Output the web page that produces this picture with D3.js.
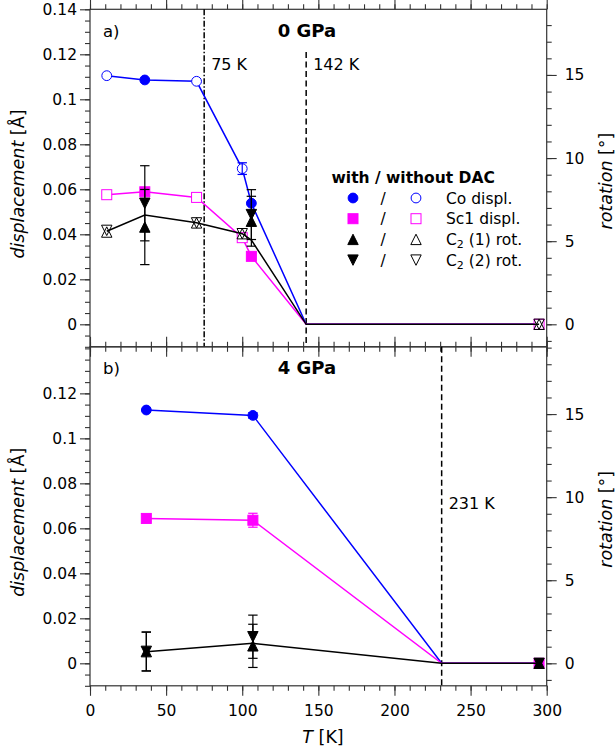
<!DOCTYPE html>
<html><head><meta charset="utf-8">
<script src="https://cdn.jsdelivr.net/npm/d3@7"></script>
<style>
html,body{margin:0;padding:0;background:#fff;}
svg{display:block;font-family:"DejaVu Sans",sans-serif;}
</style></head>
<body><svg id="chart" width="615" height="752"></svg>
<script>
// ---------- DATA ----------
const xTicks = [0, 50, 100, 150, 200, 250, 300];
const dispTicksA = [0, 0.02, 0.04, 0.06, 0.08, 0.1, 0.12, 0.14];
const dispTicksB = [0, 0.02, 0.04, 0.06, 0.08, 0.1, 0.12];
const rotTicks = [0, 5, 10, 15];

// panel a) 0 GPa  (type: f = with DAC, o = without DAC, "" = line only)
const aT        = [11, 36, 70, 100, 106, 142, 295];
const aCo       = [0.1105, 0.1086, 0.1080, 0.0692, 0.0538, 0, 0];
const aCoErr    = [0, 0, 0, 0.0026, 0, 0, 0];
const aCoType   = ["o", "f", "o", "o", "f", "", ""];
const aSc       = [0.0576, 0.0589, 0.0564, 0.0385, 0.0302, 0, 0];
const aScType   = ["o", "f", "o", "o", "f", "", "o"];
const aRotLine  = [5.6, 6.57, 6.11, 5.45, 5.07, 0, 0];
const aRotT     = [11, 36, 70, 100, 106, 295];
const aRotType  = ["o", "f", "o", "o", "f", "o"];
const aC21      = [5.55, 5.85, 6.1, 5.45, 6.2, 0];
const aC21Err   = [0, 2.26, 0, 0, 1.5, 0];
const aC22      = [5.65, 7.28, 6.1, 5.45, 6.6, 0];
const aC22Err   = [0, 2.26, 0, 0, 1.5, 0];

// panel b) 4 GPa
const bT        = [37, 107, 231, 295];
const bCo       = [0.1126, 0.1102, 0, 0];
const bCoErr    = [0, 0.0012, 0, 0];
const bCoType   = ["f", "f", "", ""];
const bSc       = [0.0644, 0.0636, 0, 0];
const bScErr    = [0, 0.0031, 0, 0];
const bScType   = ["f", "f", "", "f"];
const bRotLine  = [0.70, 1.2, 0, 0];
const bRotT     = [37, 107, 295];
const bRotType  = ["f", "f", "f"];
const bC21      = [0.70, 1.05, 0];
const bC21Err   = [1.17, 1.3, 0];
const bC22      = [0.72, 1.6, 0];
const bC22Err   = [1.17, 1.3, 0];

// ---------- DRAW ----------
const svg = d3.select("#chart");
const X0 = 90, X1 = 546.7;
const x = d3.scaleLinear().domain([0, 300]).range([X0, X1]);
const BLUE = "#0000ff", MAG = "#ff00ff", AXC = "#333";
const FS = 15.5;

function trianglePath(up) {
  const s = 5.2;
  return up ? `M0,${-s}L${s},${s}L${-s},${s}Z` : `M0,${s}L${s},${-s}L${-s},${-s}Z`;
}

function panel(opt) {
  const y = d3.scaleLinear().domain(opt.dDom).range([opt.bottom, opt.top]);
  const yr = d3.scaleLinear().domain(opt.rDom).range([opt.bottom, opt.top]);
  const g = svg.append("g");

  g.append("rect").attr("x", X0).attr("y", opt.top).attr("width", X1 - X0)
    .attr("height", opt.bottom - opt.top).attr("fill", "none").attr("stroke", AXC).attr("stroke-width", 1.2);

  const minorX = d3.range(0, 301, 10);
  const minorD = d3.range(-0.01, opt.dDom[1] + 1e-9, 0.005).map(v => +v.toFixed(4));
  const minorR = d3.range(-1, opt.rDom[1], 1);

  function addAxis(axis, tr, labels) {
    const a = g.append("g").attr("transform", tr).call(axis);
    a.select(".domain").remove();
    a.selectAll("line").attr("stroke", AXC).attr("stroke-width", 1.1);
    a.selectAll("text").attr("font-size", FS).attr("fill", "#000")
      .attr("font-family", "DejaVu Sans, sans-serif");
    if (!labels) a.selectAll("text").remove();
    return a;
  }
  addAxis(d3.axisLeft(y).tickValues(minorD).tickSize(5).tickSizeOuter(0), `translate(${X0},0)`, false);
  addAxis(d3.axisLeft(y).tickValues(opt.dTicks).tickSize(10).tickSizeOuter(0).tickPadding(3)
    .tickFormat(d => d === 0 ? "0" : d3.format("~g")(d)), `translate(${X0},0)`, true);
  addAxis(d3.axisRight(yr).tickValues(minorR).tickSize(5).tickSizeOuter(0), `translate(${X1},0)`, false);
  addAxis(d3.axisRight(yr).tickValues(rotTicks).tickSize(10).tickSizeOuter(0).tickPadding(8)
    .tickFormat(d3.format("d")), `translate(${X1},0)`, true);
  addAxis(d3.axisTop(x).tickValues(minorX).tickSize(5).tickSizeOuter(0), `translate(0,${opt.top})`, false);
  addAxis(d3.axisTop(x).tickValues(xTicks).tickSize(10).tickSizeOuter(0), `translate(0,${opt.top})`, false);
  addAxis(d3.axisBottom(x).tickValues(minorX).tickSize(5).tickSizeOuter(0), `translate(0,${opt.bottom})`, false);
  addAxis(d3.axisBottom(x).tickValues(xTicks).tickSize(10).tickSizeOuter(0).tickPadding(9)
    .tickFormat(d3.format("d")), `translate(0,${opt.bottom})`, opt.xLabels);

  opt.vlines.forEach(v => {
    g.append("line").attr("x1", x(v.T)).attr("x2", x(v.T)).attr("y1", v.y1).attr("y2", opt.bottom)
      .attr("stroke", "#000").attr("stroke-width", 1.5).attr("stroke-dasharray", v.dash);
    g.append("text").attr("x", x(v.T) + 7).attr("y", v.ty).attr("font-size", 16).text(v.T + " K");
  });

  const line = (sc) => d3.line().x(d => x(d[0])).y(d => sc(d[1]));

  function series(T, V, E, types, sc, color, shape) {
    const pts = T.map((t, i) => [t, V[i]]);
    g.append("path").datum(pts).attr("d", line(sc)).attr("fill", "none")
      .attr("stroke", color).attr("stroke-width", 1.5);
    markers(T, V, E, types, sc, color, shape);
  }
  function markers(T, V, E, types, sc, color, shape) {
    T.forEach((t, i) => {
      const ty = types[i];
      if (!ty) return;
      const cx = x(t), cy = sc(V[i]);
      const e = E ? E[i] : 0;
      const fill = ty === "f" ? color : "#fff";
      if (shape === "circle") {
        g.append("circle").attr("cx", cx).attr("cy", cy).attr("r", 4.9)
          .attr("fill", fill).attr("stroke", color).attr("stroke-width", 1);
      } else if (shape === "square") {
        g.append("rect").attr("x", cx - 5).attr("y", cy - 5).attr("width", 10).attr("height", 10)
          .attr("fill", fill).attr("stroke", color).attr("stroke-width", 1);
      } else {
        g.append("path").attr("transform", `translate(${cx},${cy})`).attr("d", trianglePath(shape === "up"))
          .attr("fill", ty === "f" ? color : "none").attr("stroke", color).attr("stroke-width", 1);
      }
      if (e > 0) {
        const y1 = sc(V[i] - e), y2 = sc(V[i] + e);
        g.append("line").attr("x1", cx).attr("x2", cx).attr("y1", y1).attr("y2", y2)
          .attr("stroke", color).attr("stroke-width", 1.2);
        [y1, y2].forEach(yy => g.append("line").attr("x1", cx - 4.7).attr("x2", cx + 4.7)
          .attr("y1", yy).attr("y2", yy).attr("stroke", color).attr("stroke-width", 1.2));
      }
    });
  }

  const d = opt.data;
  series(d.T, d.co, d.coErr, d.coType, y, BLUE, "circle");
  series(d.T, d.sc, d.scErr, d.scType, y, MAG, "square");
  const rl = d.T.map((t, i) => [t, d.rotLine[i]]);
  g.append("path").datum(rl).attr("d", line(yr)).attr("fill", "none").attr("stroke", "#000").attr("stroke-width", 1.5);
  markers(d.rotT, d.c21, d.c21Err, d.rotType, yr, "#000", "up");
  markers(d.rotT, d.c22, d.c22Err, d.rotType, yr, "#000", "down");

  g.append("text").attr("x", 103).attr("y", opt.top + 27.5).attr("font-size", 16.5).text(opt.tag);
  g.append("text").attr("x", 307).attr("y", opt.top + 27.5).attr("font-size", 18).attr("font-weight", "bold")
    .attr("text-anchor", "middle").text(opt.title);

  const cy = (opt.top + opt.bottom) / 2;
  const lt = g.append("text").attr("transform", `translate(24,${cy + 6}) rotate(-90)`)
    .attr("text-anchor", "middle").attr("font-size", 17.5);
  lt.append("tspan").attr("font-style", "italic").text("displacement");
  lt.append("tspan").text(" [Å]");
  const rt = g.append("text").attr("transform", `translate(612,${cy + 3}) rotate(-90)`)
    .attr("text-anchor", "middle").attr("font-size", 17.5);
  rt.append("tspan").attr("font-style", "italic").text("rotation");
  rt.append("tspan").text(" [°]");
  return {y, yr, g};
}

panel({
  top: 9.3, bottom: 346.8, dDom: [-0.01, 0.14], rDom: [-1.354, 18.95], dTicks: dispTicksA,
  xLabels: false, tag: "a)", title: "0 GPa",
  vlines: [{T: 75, y1: 9.3, dash: "6,2,1.5,2", ty: 70}, {T: 142, y1: 52, dash: "6,3.5", ty: 70}],
  data: {T: aT, co: aCo, coErr: aCoErr, coType: aCoType, sc: aSc, scErr: null, scType: aScType,
         rotLine: aRotLine, rotT: aRotT, rotType: aRotType, c21: aC21, c21Err: aC21Err, c22: aC22, c22Err: aC22Err}
});
panel({
  top: 346.8, bottom: 685.8, dDom: [-0.01, 0.1407], rDom: [-1.354, 19.05], dTicks: dispTicksB,
  xLabels: true, tag: "b)", title: "4 GPa",
  vlines: [{T: 231, y1: 346.8, dash: "6,3.5", ty: 509}],
  data: {T: bT, co: bCo, coErr: bCoErr, coType: bCoType, sc: bSc, scErr: bScErr, scType: bScType,
         rotLine: bRotLine, rotT: bRotT, rotType: bRotType, c21: bC21, c21Err: bC21Err, c22: bC22, c22Err: bC22Err}
});

const xl = svg.append("text").attr("x", 323).attr("y", 743).attr("text-anchor", "middle").attr("font-size", 17.5);
xl.append("tspan").attr("font-style", "italic").text("T");
xl.append("tspan").text(" [K]");

const lg = svg.append("g");
lg.append("text").attr("x", 331.5).attr("y", 183).attr("font-size", FS).attr("font-weight", "bold").text("with / without DAC");
const legRows = [
  {shape: "circle", color: BLUE, label: ["Co displ."]},
  {shape: "square", color: MAG, label: ["Sc1 displ."]},
  {shape: "up", color: "#000", label: ["C", "2", " (1) rot."]},
  {shape: "down", color: "#000", label: ["C", "2", " (2) rot."]}
];
legRows.forEach((r, i) => {
  const cy = 198 + i * 20.7;
  [353, 416].forEach((cx, k) => {
    const fill = k === 0 ? r.color : (r.shape === "up" || r.shape === "down" ? "none" : "#fff");
    if (r.shape === "circle") lg.append("circle").attr("cx", cx).attr("cy", cy).attr("r", 4.9).attr("fill", fill).attr("stroke", r.color);
    else if (r.shape === "square") lg.append("rect").attr("x", cx - 5).attr("y", cy - 5).attr("width", 10).attr("height", 10).attr("fill", fill).attr("stroke", r.color);
    else lg.append("path").attr("transform", `translate(${cx},${cy})`).attr("d", trianglePath(r.shape === "up")).attr("fill", fill).attr("stroke", r.color);
  });
  lg.append("text").attr("x", 383).attr("y", cy + 5.5).attr("font-size", FS).attr("text-anchor", "middle").text("/");
  const t = lg.append("text").attr("x", 446).attr("y", cy + 5.5).attr("font-size", FS);
  if (r.label.length === 1) t.text(r.label[0]);
  else {
    t.append("tspan").text(r.label[0]);
    t.append("tspan").attr("font-size", 11).attr("dy", 3).text(r.label[1]);
    t.append("tspan").attr("dy", -3).text(r.label[2]);
  }
});
</script>
</body></html>
